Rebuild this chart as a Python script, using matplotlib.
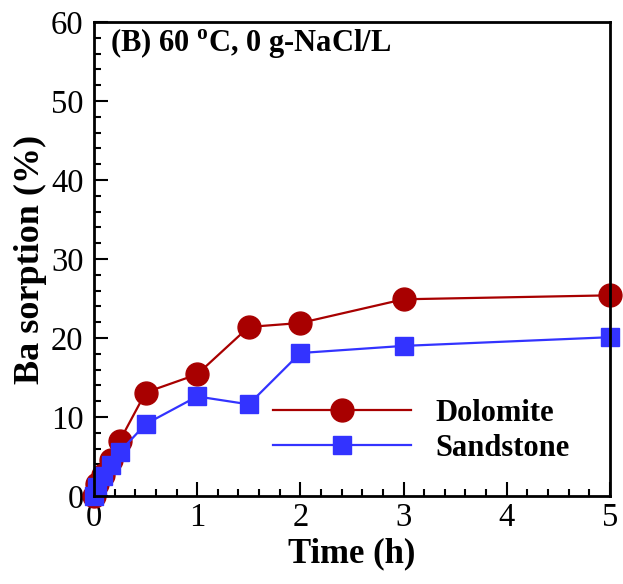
import matplotlib
matplotlib.use("Agg")
import matplotlib.pyplot as plt
from matplotlib.ticker import MultipleLocator

# Datos (tiempo en h, sorción de Ba en %)
tiempo = [0, 0.033, 0.083, 0.167, 0.25, 0.5, 1, 1.5, 2, 3, 5]
dolomita = [0, 1.5, 2.7, 4.6, 7.0, 13.1, 15.4, 21.4, 21.9, 24.9, 25.4]
arenisca = [0, 1.2, 2.5, 3.9, 5.6, 9.1, 12.6, 11.6, 18.1, 19.0, 20.1]

etiquetas = ["Dolomite", "Sandstone"]
titulo = "(B) 60 $^{\\rm o}$C, 0 g-NaCl/L"

plt.rcParams["font.family"] = ["Liberation Serif", "DejaVu Serif"]
plt.rcParams["mathtext.fontset"] = "custom"
plt.rcParams["mathtext.rm"] = "Liberation Serif:bold"

fig = plt.figure(figsize=(6.23, 5.84), dpi=100)
ax = fig.add_axes([0.1509, 0.1507, 0.828, 0.8116])

ax.plot(tiempo, dolomita, "-o", color="#A80000", lw=1.6, ms=16.5,
        label=etiquetas[0], zorder=3, clip_on=False)
ax.plot(tiempo, arenisca, "-s", color="#3333FF", lw=1.6, ms=12.5,
        label=etiquetas[1], zorder=4, clip_on=False)

ax.set_xlim(0, 5)
ax.set_ylim(0, 60)
ax.xaxis.set_major_locator(MultipleLocator(1))
ax.xaxis.set_minor_locator(MultipleLocator(0.2))
ax.yaxis.set_major_locator(MultipleLocator(10))
ax.yaxis.set_minor_locator(MultipleLocator(2))
ax.tick_params(which="both", direction="in", top=False, right=False,
               labelsize=23.5, width=1.5)
ax.tick_params(which="major", length=10)
ax.tick_params(which="minor", length=5)
ax.tick_params(axis="y", which="major", pad=7.5)
ax.tick_params(axis="x", which="major", pad=5)
for s in ax.spines.values():
    s.set_linewidth(2)
    s.set_zorder(5)

ax.set_xlabel("Time (h)", fontsize=25, fontweight="bold", labelpad=3)
ax.set_ylabel("Ba sorption (%)", fontsize=26, fontweight="bold", labelpad=3)

ax.text(0.031, 0.956, titulo, transform=ax.transAxes, fontsize=22,
        fontweight="bold", va="center", ha="left")

leg = ax.legend(loc="center left", bbox_to_anchor=(0.347, 0.137),
                frameon=False, handlelength=4.5,
                handletextpad=0.8, labelspacing=0.2, borderpad=0,
                borderaxespad=0, prop={"weight": "bold", "size": 22})

fig.savefig("out.png", dpi=100)
